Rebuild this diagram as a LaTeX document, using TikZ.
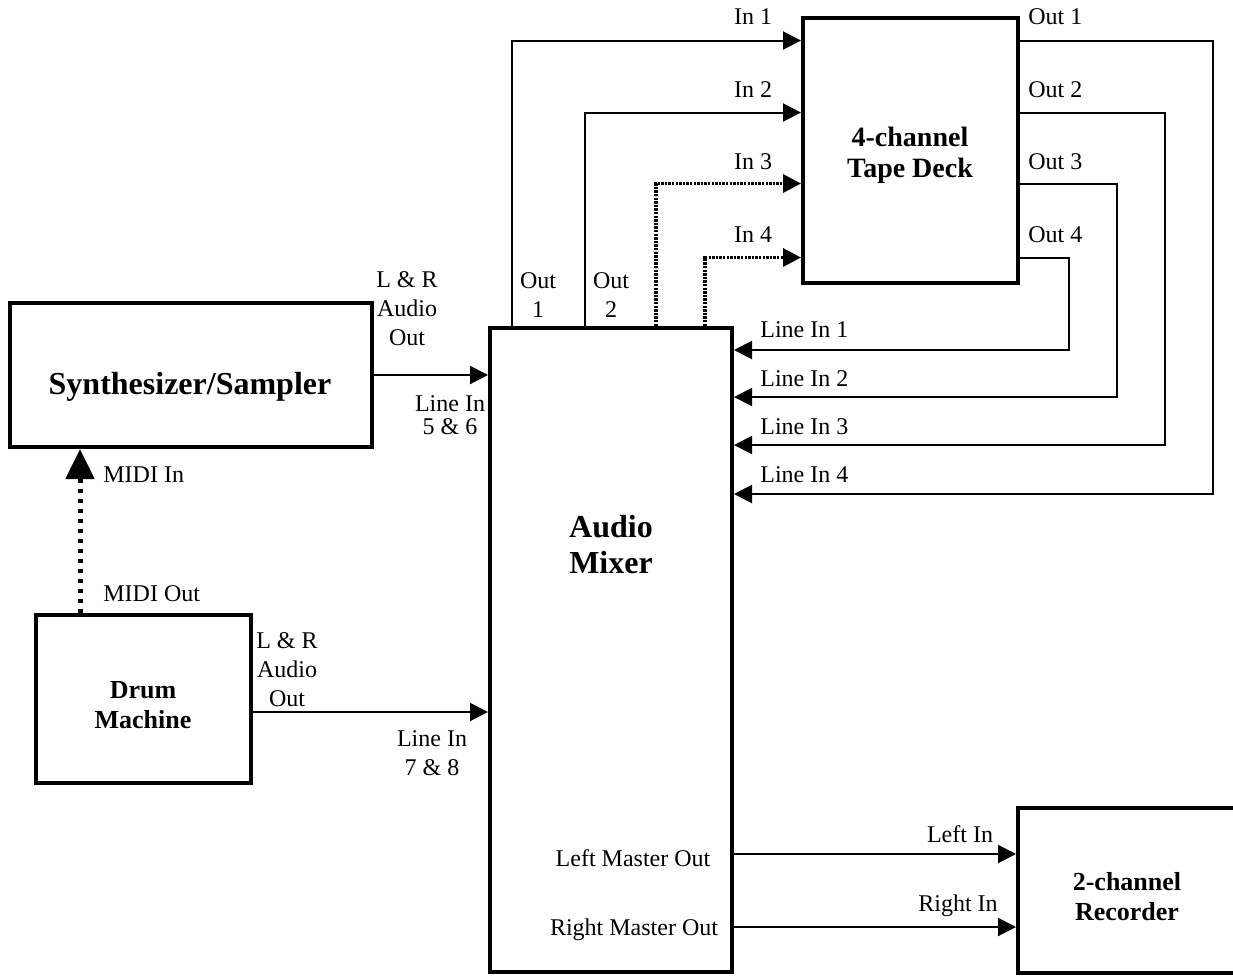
\documentclass[tikz,border=0pt]{standalone}
\usepackage{fontspec}
\setmainfont{Liberation Serif}
\usetikzlibrary{arrows.meta,positioning}

\begin{document}
\begin{tikzpicture}[x=0.5pt,y=-0.5pt,>={Triangle[length=9pt,width=9pt]},
 every node/.style={font=\fontsize{12}{14.5}\selectfont,align=center,inner sep=0pt},
 unit/.style={draw,line width=2pt,inner sep=0pt},
 title/.style 2 args={font=\bfseries\fontsize{#1}{#2}\selectfont},
 wire/.style={line width=1pt,->},
 tapewire/.style={line width=1.6pt,dash pattern=on 1.2pt off 0.6pt,->},
 midi/.style={line width=2.5pt,dash pattern=on 2pt off 3pt,
   -{Triangle[length=15pt,width=14pt]}}]
    \useasboundingbox (0,0) rectangle (1233,976);
    % units
    \node[unit,minimum width=181pt,minimum height=72pt] (synth) at (191,375) {};
    \node[title={16}{18}] (synthtxt) at (190,387) {Synthesizer/Sampler};
    \node[unit,minimum width=121pt,minimum height=322pt] (mix) at (611,650) {};
    \node[title={16}{18}] (mixtxt) at (611,545) {Audio\\Mixer};
    \node[unit,minimum width=107.5pt,minimum height=132.5pt] (tape) at (910.5,150) {};
    \node[title={14}{15.5}] (tapetxt) at (910,155) {4-channel\\Tape Deck};
    \node[unit,minimum width=107.5pt,minimum height=84pt] (drum) at (143.5,699) {};
    \node[title={13}{15}] (drumtxt) at (143,705) {Drum\\Machine};
    \node[unit,minimum width=109pt,minimum height=82.5pt] (rec) at (1127,890.5) {};
    \node[title={13}{15}] (rectxt) at (1127,897) {2-channel\\Recorder};
    % synth and drum into mixer
    \draw[wire] (synth.east) -- (mix.west |- synth.east);
    \node (synthout) at (407,309) {L \& R\\Audio\\Out};
    \node (line56) at (450,415) {Line In\\[-3pt]5 \& 6};
    \coordinate (drumout) at ([shift={(0,13)}]drum.east);
    \draw[wire] (drumout) -- (drumout -| mix.west);
    \node (drumaudio) at (287,670) {L \& R\\Audio\\Out};
    \node (line78) at (432,753) {Line In\\7 \& 8};
    % midi
    \coordinate (midiout) at ([shift={(46,0)}]drum.north west);
    \draw[midi] (midiout) -- (midiout |- synth.south);
    \node[anchor=west] (midiin) at (103,475) {MIDI In};
    \node[anchor=west] (midiouttxt) at (103,594) {MIDI Out};
    % mixer to tape deck
    \draw[wire] ([shift={(24,0)}]mix.north west) |- ([shift={(0,25)}]tape.north west);
    \draw[wire] ([shift={(97,0)}]mix.north west) |- ([shift={(0,97)}]tape.north west);
    \draw[tapewire] ([shift={(168,0)}]mix.north west) |- ([shift={(0,168)}]tape.north west);
    \draw[tapewire] ([shift={(217,0)}]mix.north west) |- ([shift={(0,242)}]tape.north west);
    \node (out1) at (538,295) {Out\\1};
    \node (out2) at (611,295) {Out\\2};
    \node (in1) at (753,17) {In 1};
    \node (in2) at (753,90) {In 2};
    \node (in3) at (753,162) {In 3};
    \node (in4) at (753,235) {In 4};
    % tape deck back to mixer
    \draw[wire] ([shift={(0,25)}]tape.north east) -- ++(193,0) |- ([shift={(0,168)}]mix.north east);
    \draw[wire] ([shift={(0,97)}]tape.north east) -- ++(145,0) |- ([shift={(0,119)}]mix.north east);
    \draw[wire] ([shift={(0,168)}]tape.north east) -- ++(97,0) |- ([shift={(0,71)}]mix.north east);
    \draw[wire] ([shift={(0,242)}]tape.north east) -- ++(49,0) |- ([shift={(0,24)}]mix.north east);
    \node[anchor=west] (tout1) at (1028,17) {Out 1};
    \node[anchor=west] (tout2) at (1028,90) {Out 2};
    \node[anchor=west] (tout3) at (1028,162) {Out 3};
    \node[anchor=west] (tout4) at (1028,235) {Out 4};
    \node[anchor=west] (lin1) at (760,330) {Line In 1};
    \node[anchor=west] (lin2) at (760,379) {Line In 2};
    \node[anchor=west] (lin3) at (760,427) {Line In 3};
    \node[anchor=west] (lin4) at (760,475) {Line In 4};
    % master outs
    \coordinate (leftout) at ([shift={(0,528)}]mix.north east);
    \coordinate (rightout) at ([shift={(0,601)}]mix.north east);
    \draw[wire] (leftout) -- (leftout -| rec.west);
    \draw[wire] (rightout) -- (rightout -| rec.west);
    \node (lmo) at (633,858) {Left Master Out};
    \node (rmo) at (634,930) {Right Master Out};
    \node (leftin) at (960,834) {Left In};
    \node (rightin) at (958,906) {Right In};
\end{tikzpicture}
\end{document}
